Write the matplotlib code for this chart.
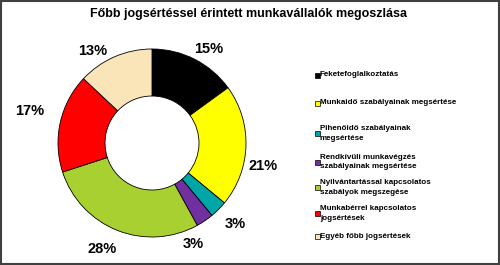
import matplotlib.pyplot as plt
from matplotlib.patches import Rectangle

plt.rcParams['font.family'] = ['Liberation Sans', 'DejaVu Sans']

categories = [
    "Feketefoglalkoztatás",
    "Munkaidő szabályainak megsértése",
    "Pihenőidő szabályainak\nmegsértése",
    "Rendkívüli munkavégzés\nszabályainak megsértése",
    "Nyilvántartással kapcsolatos\nszabályok megszegése",
    "Munkabérrel kapcsolatos\njogsértések",
    "Egyéb főbb jogsértések",
]
shares = [15, 21, 3, 3, 28, 17, 13]
colors = ['#000000', '#FFFF00', '#00A6A6', '#7030A0', '#A8D030', '#FF0000', '#FAE5B8']

W, H = 500, 265
fig = plt.figure(figsize=(W / 100, H / 100), dpi=100)
fig.patch.set_facecolor('white')

# donut: centre (152,143) px from top-left, radius 94 px
cx, cy, r = 152, H - 143, 94
ax = fig.add_axes([(cx - r) / W, (cy - r) / H, 2 * r / W, 2 * r / H])
wedges, _, pcts = ax.pie(shares, colors=colors, startangle=90, counterclock=False,
                         autopct='%1.0f%%', pctdistance=1.21,
                         wedgeprops=dict(width=0.5, edgecolor='black', linewidth=0.6))
# nudge labels (pixels, right/down) to sit where Excel put them
nudges = [(5, 7), (-3, 19), (3, 1), (-23, 7), (-8, 0), (-11, -7), (-14, 12)]
for t, (dx, dy) in zip(pcts, nudges):
    x, y = t.get_position()
    t.set_position((x + dx / r, y - dy / r))
    t.set_fontsize(10.5)
    t.set_fontweight('bold')
ax.set_xlim(-1, 1)
ax.set_ylim(-1, 1)
ax.set_aspect('equal')
ax.axis('off')

fig.text(248 / W, 1 - 14 / H, "Főbb jogsértéssel érintett munkavállalók megoszlása",
         ha='center', va='center', fontsize=9, fontweight='bold')

# legend, placed by hand like the original
ys = [75, 103, 133.5, 162, 187.5, 213.5, 236]
for lab, col, y in zip(categories, colors, ys):
    fig.patches.append(Rectangle((315 / W, 1 - (y + 2.5) / H), 5 / W, 5 / H,
                                 transform=fig.transFigure, facecolor=col,
                                 edgecolor='black', linewidth=0.5))
    fig.text(320 / W, 1 - y / H, lab, ha='left', va='center', fontsize=5.8,
             fontweight='bold', linespacing=1.45)

fig.patches.append(Rectangle((0.002, 0.003), 0.995, 0.994, transform=fig.transFigure,
                             fill=False, edgecolor='#404040', linewidth=1.5))

fig.savefig('out.png', dpi=100)
